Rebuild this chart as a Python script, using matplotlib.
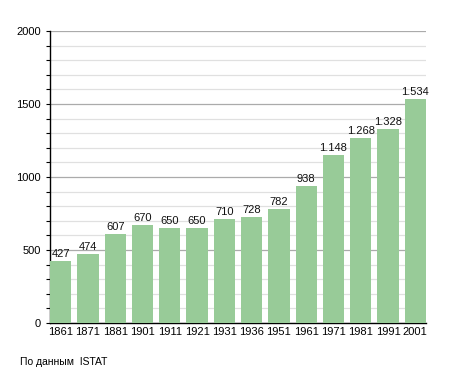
import matplotlib
matplotlib.use("Agg")
from matplotlib import pyplot as plt
from matplotlib.ticker import MultipleLocator
import numpy as np

years = ["1861", "1871", "1881", "1901", "1911", "1921", "1931",
         "1936", "1951", "1961", "1971", "1981", "1991", "2001"]
population = [427, 474, 607, 670, 650, 650, 710,
              728, 782, 938, 1148, 1268, 1328, 1534]
value_labels = ["427", "474", "607", "670", "650", "650", "710",
                "728", "782", "938", "1.148", "1.268", "1.328", "1.534"]

plt.rcParams['font.family'] = ['Liberation Sans', 'DejaVu Sans']

fig = plt.figure(figsize=(4.55, 3.73), dpi=100)
ax = fig.add_axes([0.110, 0.134, 0.826, 0.783])

x = np.arange(len(years))
ax.bar(x, population, width=0.78, color="#98cb98", zorder=3)
for xi, v, lab in zip(x, population, value_labels):
    ax.text(xi, v + 14, lab, ha="center", va="bottom", fontsize=8, color="#111111", zorder=4)

ax.set_xlim(-0.39, len(years) - 0.61)
ax.set_ylim(0, 2000)
ax.set_xticks(x)
ax.set_xticklabels(years, fontsize=8)
ax.yaxis.set_major_locator(MultipleLocator(500))
ax.yaxis.set_minor_locator(MultipleLocator(100))
ax.tick_params(axis="y", which="major", labelsize=8, length=3, width=0.8)
ax.tick_params(axis="y", which="minor", length=3, width=0.8)
ax.tick_params(axis="x", length=0, pad=3)

ax.grid(axis="y", which="major", color="#ababab", linewidth=0.9, zorder=0)
ax.grid(axis="y", which="minor", color="#e0e0e0", linewidth=0.9, zorder=0)
for s in ["top", "right"]:
    ax.spines[s].set_visible(False)
ax.spines["left"].set_linewidth(1.0)
ax.spines["bottom"].set_linewidth(1.0)

fig.text(20 / 455, 1 - 362 / 373, "По данным  ISTAT", fontsize=7.5, va="center", ha="left")

fig.savefig("out.png", dpi=100)
